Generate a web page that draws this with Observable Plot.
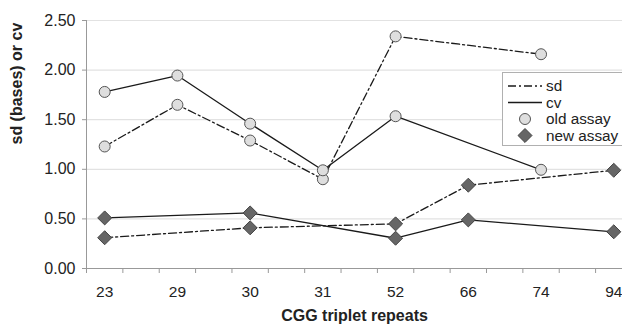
<!DOCTYPE html>
<html>
<head>
<meta charset="utf-8">
<script src="https://cdn.jsdelivr.net/npm/d3@7"></script>
<script src="https://cdn.jsdelivr.net/npm/@observablehq/plot@0.6"></script>
<style>
  html, body { margin: 0; padding: 0; background: #fff; overflow: hidden; }
  #wrap { position: relative; width: 622px; height: 329px; overflow: hidden; font-family: "Liberation Sans", Arial, sans-serif; }
  #legend { position: absolute; left: 502px; top: 72px; width: 130px; height: 74px; border: 1px solid #b0b0b0; background: #fff; box-sizing: border-box; }
</style>
</head>
<body>
<div id="wrap"></div>
<script>
// ---- data ----
const categories = ["23", "29", "30", "31", "52", "66", "74", "94"];
const oldSd = [1.23, 1.65, 1.29, 0.90, 2.34, null, 2.16, null];
const oldCv = [1.78, 1.945, 1.46, 0.99, 1.535, null, 0.995, null];
const newSd = [0.31, null, 0.41, null, 0.45, 0.84, null, 0.99];
const newCv = [0.51, null, 0.56, null, 0.305, 0.49, null, 0.37];
const yTicks = [0, 0.5, 1, 1.5, 2, 2.5];

function rows(arr, assay, stat) {
  return arr.map((v, i) => ({i, v, assay, stat})).filter(d => d.v != null);
}
const oldSdRows = rows(oldSd, "old assay", "sd");
const oldCvRows = rows(oldCv, "old assay", "cv");
const newSdRows = rows(newSd, "new assay", "sd");
const newCvRows = rows(newCv, "new assay", "cv");

const dashDot = "8,3,2,3";
const lineColor = "#1a1a1a";
const font = "\"Liberation Sans\", Arial, sans-serif";

const xMinorTicks = d3.range(0, 15).map(k => -0.25 + 0.5 * k);

const chart = Plot.plot({
  width: 622,
  height: 329,
  marginLeft: 86,
  marginRight: 0,
  marginTop: 20,
  marginBottom: 61,
  style: {fontFamily: font, fontSize: "16px", color: "#222", background: "#fff"},
  x: {domain: [-0.25, 7.12]},
  y: {domain: [0, 2.5]},
  marks: [
    Plot.gridY(yTicks, {stroke: "#e2e2e2", strokeOpacity: 1, strokeWidth: 1.2}),
    Plot.axisY(yTicks, {tickFormat: d => d.toFixed(2), tickSize: 4, tickPadding: 7, stroke: "#999", fontSize: 16, fill: "#222", label: null}),
    Plot.axisX(xMinorTicks, {tickFormat: () => "", tickSize: 5, stroke: "#999", label: null}),
    Plot.axisX(d3.range(0, 8), {tickFormat: i => categories[i], tickSize: 0, tickPadding: 17, fontSize: 15.5, fill: "#222", label: null}),
    Plot.ruleX([-0.25], {stroke: "#999"}),
    Plot.ruleY([0], {stroke: "#999"}),
    Plot.lineY(oldSdRows, {x: "i", y: "v", stroke: lineColor, strokeWidth: 1.3, strokeDasharray: dashDot}),
    Plot.lineY(oldCvRows, {x: "i", y: "v", stroke: lineColor, strokeWidth: 1.3}),
    Plot.lineY(newSdRows, {x: "i", y: "v", stroke: lineColor, strokeWidth: 1.3, strokeDasharray: dashDot}),
    Plot.lineY(newCvRows, {x: "i", y: "v", stroke: lineColor, strokeWidth: 1.3}),
    Plot.dot([...oldSdRows, ...oldCvRows], {x: "i", y: "v", symbol: "circle", r: 5.5, fill: "#dedede", stroke: "#555", strokeWidth: 1}),
    Plot.dot([...newSdRows, ...newCvRows], {x: "i", y: "v", symbol: "diamond2", r: 6.3, fill: "#666", stroke: "#444", strokeWidth: 1}),
    Plot.text(["sd (bases) or cv"], {frameAnchor: "left", dx: -70, rotate: -90, fontWeight: "bold", fontSize: 16, fill: "#222"}),
    Plot.text(["CGG triplet repeats"], {frameAnchor: "bottom", dy: 52, fontWeight: "bold", fontSize: 16, fill: "#222"})
  ]
});
document.getElementById("wrap").appendChild(chart);

// ---- legend ----
const legendItems = [
  {label: "sd", kind: "line", dash: dashDot},
  {label: "cv", kind: "line", dash: null},
  {label: "old assay", kind: "circle"},
  {label: "new assay", kind: "diamond"}
];
const legend = document.createElement("div");
legend.id = "legend";
const ns = "http://www.w3.org/2000/svg";
const lsvg = document.createElementNS(ns, "svg");
lsvg.setAttribute("width", 130);
lsvg.setAttribute("height", 72);
legendItems.forEach((it, k) => {
  const cy = 13 + k * 16.5;
  if (it.kind === "line") {
    const l = document.createElementNS(ns, "line");
    l.setAttribute("x1", 5); l.setAttribute("x2", 39);
    l.setAttribute("y1", cy); l.setAttribute("y2", cy);
    l.setAttribute("stroke", lineColor); l.setAttribute("stroke-width", 1.3);
    if (it.dash) l.setAttribute("stroke-dasharray", it.dash);
    lsvg.appendChild(l);
  } else if (it.kind === "circle") {
    const c = document.createElementNS(ns, "circle");
    c.setAttribute("cx", 22); c.setAttribute("cy", cy); c.setAttribute("r", 5.5);
    c.setAttribute("fill", "#dedede"); c.setAttribute("stroke", "#555");
    lsvg.appendChild(c);
  } else {
    const p = document.createElementNS(ns, "path");
    p.setAttribute("d", d3.symbol(d3.symbolDiamond2, 6.3 * 6.3 * Math.PI)());
    p.setAttribute("transform", `translate(22,${cy})`);
    p.setAttribute("fill", "#666"); p.setAttribute("stroke", "#444");
    lsvg.appendChild(p);
  }
  const t = document.createElementNS(ns, "text");
  t.setAttribute("x", 43); t.setAttribute("y", cy);
  t.setAttribute("dy", "0.35em");
  t.setAttribute("font-size", 15.3);
  t.setAttribute("font-family", font);
  t.setAttribute("fill", "#222");
  t.textContent = it.label;
  lsvg.appendChild(t);
});
legend.appendChild(lsvg);
document.getElementById("wrap").appendChild(legend);
</script>
</body>
</html>
